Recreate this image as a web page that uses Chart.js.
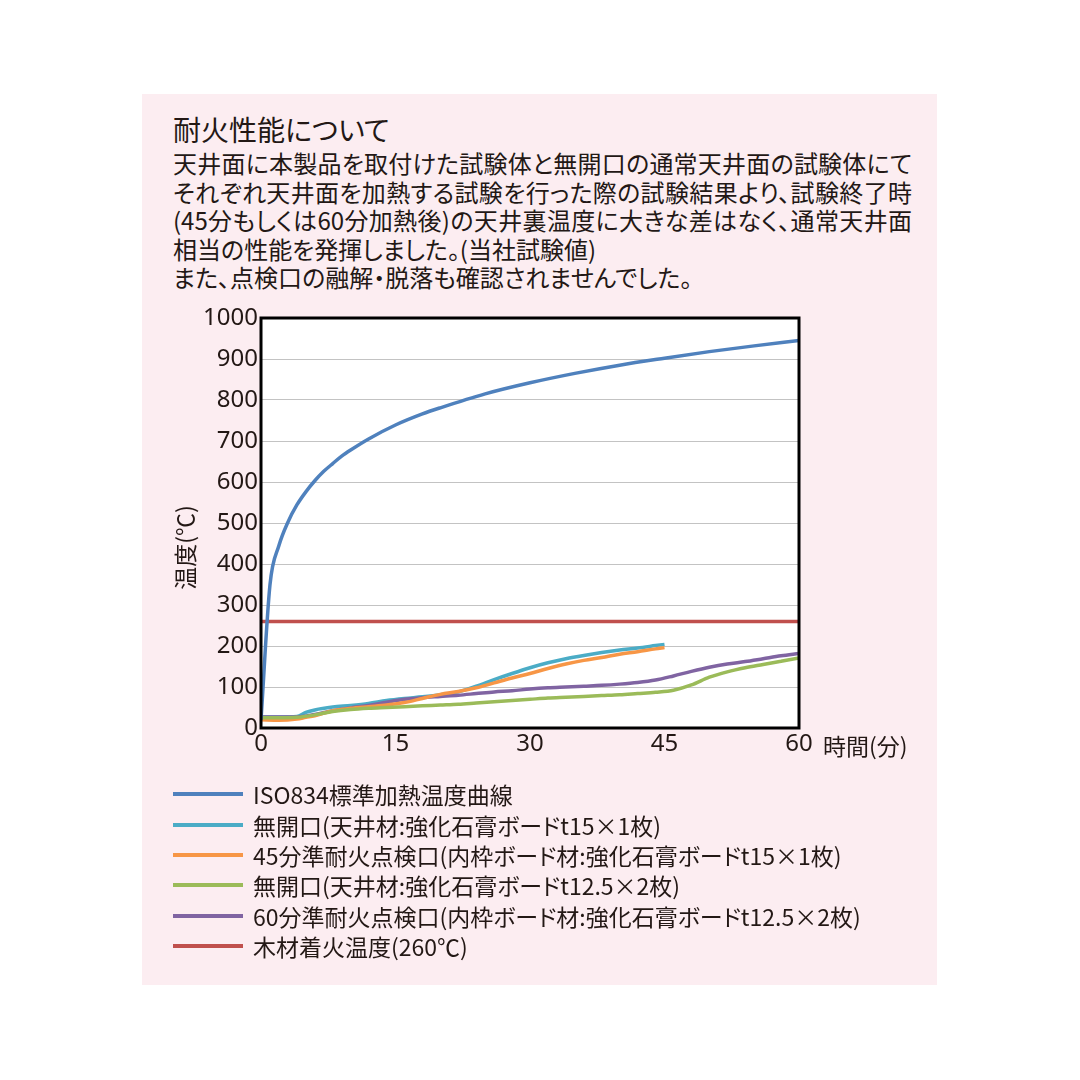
<!DOCTYPE html>
<html lang="ja">
<head>
<meta charset="utf-8">
<title>耐火性能について</title>
<script src="https://cdn.jsdelivr.net/npm/chart.js@4.4.1/dist/chart.umd.min.js"></script>
<style>
  html, body {
    margin: 0;
    padding: 0;
    width: 1080px;
    height: 1080px;
    background: #ffffff;
    overflow: hidden;
    font-family: "Noto Sans CJK JP", "Noto Sans", sans-serif;
    color: #231815;
  }
  #panel {
    position: absolute;
    left: 142px;
    top: 94px;
    width: 795px;
    height: 891px;
    background: #fcedf1;
  }
  #title {
    position: absolute;
    left: 173px;
    top: 112px;
    font-size: 28px;
    line-height: 34px;
    white-space: nowrap;
    font-feature-settings: "palt";
  }
  #lead {
    position: absolute;
    left: 173px;
    top: 149px;
    font-size: 24px;
    line-height: 28.5px;
    white-space: nowrap;
    font-feature-settings: "palt";
  }
  #lead .full {
    width: 739px;
    text-align: justify;
    text-align-last: justify;
  }
  #chart-wrap {
    position: absolute;
    left: 143px;
    top: 290px;
    width: 794px;
    height: 490px;
  }
  #legend {
    position: absolute;
    left: 173px;
    top: 779px;
    font-size: 23px;
    white-space: nowrap;
    font-feature-settings: "palt";
  }
  #legend .row {
    height: 30.4px;
    display: flex;
    align-items: center;
  }
  #legend .swatch {
    display: inline-block;
    width: 70px;
    height: 4px;
    margin-right: 10px;
  }
</style>
</head>
<body>
<div id="panel"></div>
<div id="title">耐火性能について</div>
<div id="lead">
  <div class="full">天井面に本製品を取付けた試験体と無開口の通常天井面の試験体にて</div>
  <div class="full">それぞれ天井面を加熱する試験を行った際の試験結果より、試験終了時</div>
  <div class="full">(45分もしくは60分加熱後)の天井裏温度に大きな差はなく、通常天井面</div>
  <div>相当の性能を発揮しました。(当社試験値)</div>
  <div>また、点検口の融解・脱落も確認されませんでした。</div>
</div>
<div id="chart-wrap"><canvas id="fire-chart"></canvas></div>
<div id="legend"></div>

<script>
// 時間(分)
const timeIso = [0, 1, 2, 3, 4, 5, 6, 7, 8, 9, 10, 12, 15, 18, 20, 25, 30, 35, 40, 45, 50, 55, 60];
const tempIso = [20, 349, 445, 502, 544, 576, 603, 626, 645, 663, 678, 705, 739, 766, 781, 815, 842, 865, 885, 902, 918, 932, 945];

const time45 = [0, 2, 4, 5, 6, 8, 10, 12, 14, 16, 18, 20, 22, 24, 26, 28, 30, 32, 34, 36, 38, 40, 42, 44, 45];
const tempNoOpening15 = [27, 27, 28, 38, 44, 51, 55, 60, 67, 72, 76, 81, 88, 102, 118, 133, 147, 159, 169, 177, 184, 190, 195, 201, 204];
const tempHatch45 = [20, 19, 22, 26, 30, 42, 48, 52, 56, 62, 72, 82, 89, 98, 110, 122, 133, 145, 156, 165, 172, 180, 186, 193, 196];

const time60 = [0, 2, 4, 6, 8, 10, 12, 14, 16, 18, 20, 22, 24, 26, 28, 30, 32, 34, 36, 38, 40, 42, 44, 46, 48, 50, 52, 54, 56, 58, 60];
const tempNoOpening125 = [25, 25, 26, 32, 40, 45, 48, 50, 52, 54, 56, 58, 61, 64, 67, 70, 73, 75, 77, 79, 81, 84, 87, 92, 105, 124, 137, 147, 155, 163, 171];
const tempHatch60 = [27, 27, 27, 33, 42, 49, 55, 63, 70, 74, 77, 80, 84, 88, 91, 95, 98, 100, 102, 104, 107, 111, 117, 127, 138, 148, 156, 162, 169, 176, 182];

const timeWood = [0, 60];
const tempWood = [260, 260];

const seriesNames = [
  "ISO834標準加熱温度曲線",
  "無開口(天井材:強化石膏ボードt15×1枚)",
  "45分準耐火点検口(内枠ボード材:強化石膏ボードt15×1枚)",
  "無開口(天井材:強化石膏ボードt12.5×2枚)",
  "60分準耐火点検口(内枠ボード材:強化石膏ボードt12.5×2枚)",
  "木材着火温度(260℃)"
];
const seriesColors = ["#4f81bd", "#4bacc6", "#f79646", "#9bbb59", "#8064a2", "#c0504d"];

const xTicks = [0, 15, 30, 45, 60];
const yTicks = [0, 100, 200, 300, 400, 500, 600, 700, 800, 900, 1000];

function toPoints(xs, ys) {
  return xs.map((x, i) => ({ x: x, y: ys[i] }));
}

// グラフ内部を白に
const plotBackground = {
  id: "plotBackground",
  beforeDraw(chart) {
    const area = chart.chartArea;
    const ctx = chart.ctx;
    ctx.save();
    ctx.fillStyle = "#ffffff";
    ctx.fillRect(area.left, area.top, area.right - area.left, area.bottom - area.top);
    ctx.restore();
  }
};

const frameAndTitles = {
  id: "frameAndTitles",
  afterDraw(chart) {
    const ctx = chart.ctx;
    const area = chart.chartArea;
    const xs = chart.scales.x;
    const ys = chart.scales.y;
    ctx.save();
    ctx.strokeStyle = "#000000";
    ctx.lineWidth = 3;
    ctx.strokeRect(area.left, area.top, area.right - area.left, area.bottom - area.top);

    ctx.fillStyle = "#231815";
    ctx.font = "23px 'Noto Sans CJK JP'";
    ctx.textBaseline = "middle";
    ctx.textAlign = "left";
    ctx.fillText("時間(分)", xs.getPixelForValue(60) + 24, area.bottom + 18);

    ctx.translate(area.left - 76, ys.getPixelForValue(440));
    ctx.rotate(-Math.PI / 2);
    ctx.textAlign = "center";
    ctx.fillText("温度(℃)", 0, 0);
    ctx.restore();
  }
};

document.addEventListener("DOMContentLoaded", () => {
  const pointSets = [
    toPoints(timeIso, tempIso),
    toPoints(time45, tempNoOpening15),
    toPoints(time45, tempHatch45),
    toPoints(time60, tempNoOpening125),
    toPoints(time60, tempHatch60),
    toPoints(timeWood, tempWood)
  ];

  const drawOrder = [1, 5, 3, 2, 4, 6];

  const datasets = pointSets.map((pts, i) => ({
    label: seriesNames[i],
    data: pts,
    borderColor: seriesColors[i],
    backgroundColor: seriesColors[i],
    borderWidth: 3.5,
    pointRadius: 0,
    cubicInterpolationMode: "monotone",
    fill: false,
    order: drawOrder[i]
  }));

  const tickFont = { family: "Noto Sans", size: 24 };

  const ctx = document.getElementById("fire-chart").getContext("2d");
  new Chart(ctx, {
    type: "line",
    data: { datasets: datasets },
    options: {
      responsive: true,
      maintainAspectRatio: false,
      animation: false,
      layout: { padding: { top: 28, right: 138, bottom: 12, left: 0 } },
      plugins: {
        legend: { display: false },
        tooltip: { enabled: false }
      },
      scales: {
        x: {
          type: "linear",
          min: 0,
          max: 60,
          afterFit: (scale) => { scale.height = 40; },
          afterBuildTicks: (scale) => { scale.ticks = xTicks.map((v) => ({ value: v })); },
          grid: { display: false, drawTicks: false },
          border: { display: false },
          ticks: {
            padding: 2,
            color: "#231815",
            font: tickFont,
            callback: (v) => String(v)
          }
        },
        y: {
          type: "linear",
          min: 0,
          max: 1000,
          afterFit: (scale) => { scale.width = 118; },
          afterBuildTicks: (scale) => { scale.ticks = yTicks.map((v) => ({ value: v })); },
          grid: { color: "#c3c3c3", lineWidth: 1, drawTicks: false },
          border: { display: false },
          ticks: {
            padding: 3,
            color: "#231815",
            font: tickFont,
            callback: (v) => String(v)
          }
        }
      }
    },
    plugins: [plotBackground, frameAndTitles]
  });

  const legend = document.getElementById("legend");
  seriesNames.forEach((name, i) => {
    const row = document.createElement("div");
    row.className = "row";
    row.innerHTML = `<span class="swatch" style="background:${seriesColors[i]}"></span><span>${name}</span>`;
    legend.appendChild(row);
  });
});
</script>
</body>
</html>
